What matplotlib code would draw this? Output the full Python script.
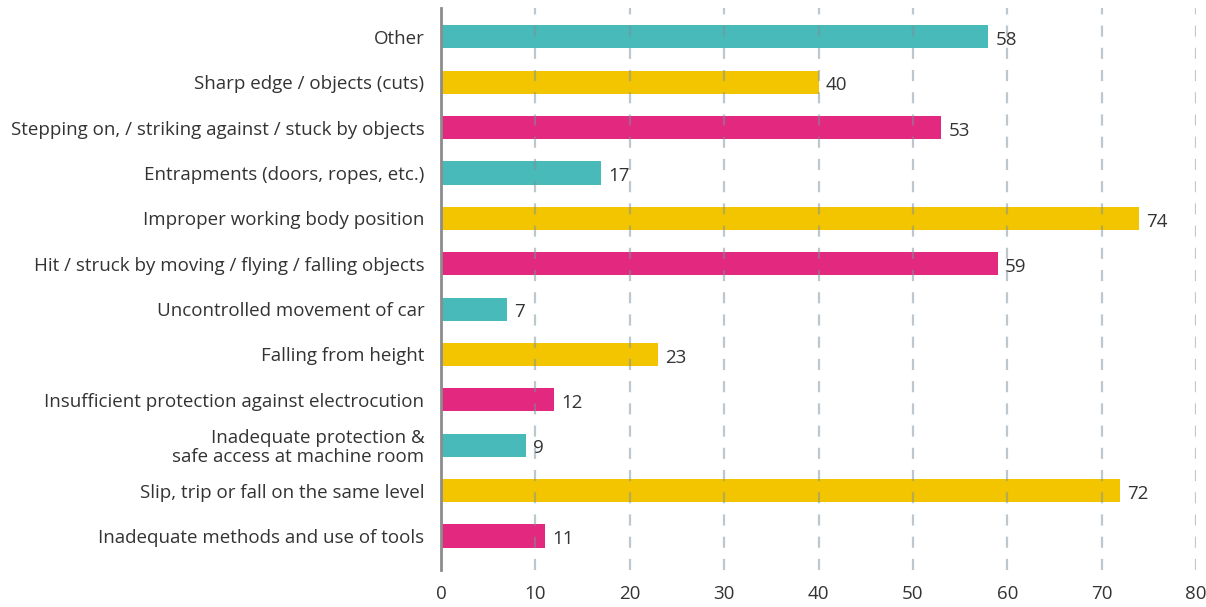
import numpy as np
import matplotlib
matplotlib.use('Agg')
import matplotlib.pyplot as plt

# categories from top to bottom
categories = [
    'Other',
    'Sharp edge / objects (cuts)',
    'Stepping on, / striking against / stuck by objects',
    'Entrapments (doors, ropes, etc.)',
    'Improper working body position',
    'Hit / struck by moving / flying / falling objects',
    'Uncontrolled movement of car',
    'Falling from height',
    'Insufficient protection against electrocution',
    'Inadequate protection &\nsafe access at machine room',
    'Slip, trip or fall on the same level',
    'Inadequate methods and use of tools',
]
values = [58, 40, 53, 17, 74, 59, 7, 23, 12, 9, 72, 11]
palette = ['#47BAB9', '#F2C500', '#E3287F']
xticks = [0, 10, 20, 30, 40, 50, 60, 70, 80]

plt.rcParams['font.family'] = ['Open Sans', 'DejaVu Sans']
text_color = '#333333'

fig = plt.figure(figsize=(12.06, 6.07), dpi=100)
ax = fig.add_axes([0.3657, 0.061, 0.6260, 0.926])

n = len(categories)
ypos = np.arange(n)[::-1]
colors = [palette[i % 3] for i in range(n)]

ax.barh(ypos, values, height=0.51, color=colors, zorder=2)

for y, v in zip(ypos, values):
    ax.text(v + 0.75, y - 0.07, str(v), va='center', ha='left',
            fontsize=13.5, color=text_color)

ax.set_xlim(0, 80)
ax.set_ylim(-0.75, n - 1 + 0.64)
ax.set_yticks(ypos)
ax.set_yticklabels(categories, fontsize=13.5, color=text_color,
                   linespacing=1.05)
ax.set_xticks(xticks)
ax.set_xticklabels([str(t) for t in xticks], fontsize=13.5, color=text_color)
ax.tick_params(axis='both', length=0)
ax.tick_params(axis='y', pad=12)
ax.tick_params(axis='x', pad=11)

for t in xticks[1:]:
    ax.axvline(t, color='#7F909C', alpha=0.5, lw=1.6, ls=(0, (5, 5)), zorder=3)

for s in ['top', 'right', 'bottom']:
    ax.spines[s].set_visible(False)
ax.spines['left'].set_color('#8C8C8C')
ax.spines['left'].set_linewidth(2)
ax.spines['left'].set_zorder(4)

fig.savefig('out.png', dpi=100)
